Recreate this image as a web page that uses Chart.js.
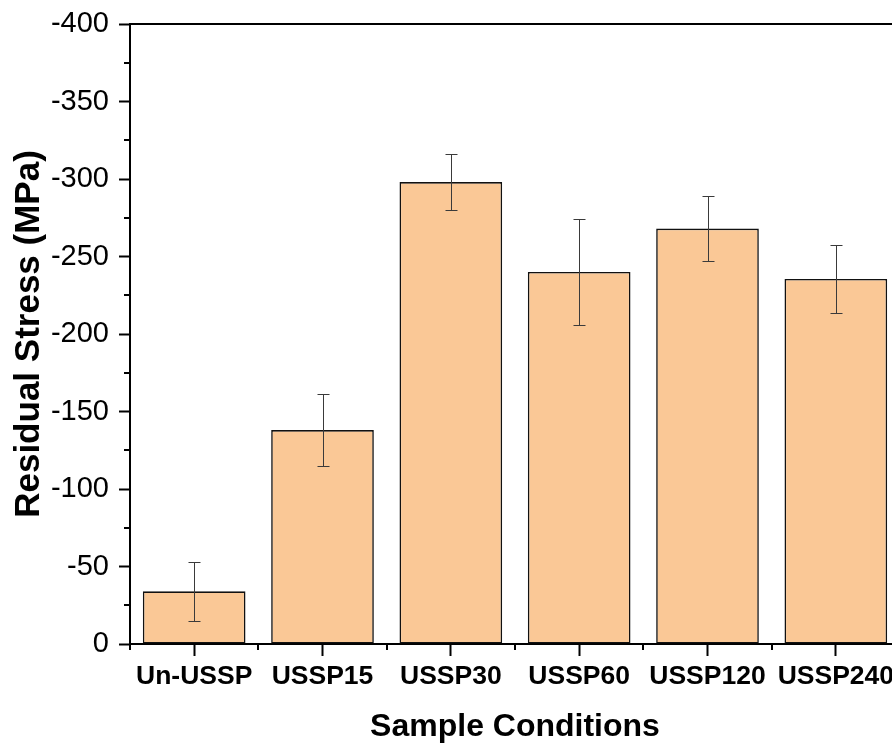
<!DOCTYPE html>
<html>
<head>
<meta charset="utf-8">
<script src="https://cdn.jsdelivr.net/npm/chart.js@4/dist/chart.umd.min.js"></script>
<style>
  html, body { margin: 0; padding: 0; background: #fff; overflow: hidden; }
  #wrap { width: 910px; height: 744px; }
</style>
</head>
<body>
<div id="wrap"><canvas id="c" width="910" height="744"></canvas></div>
<script>
const categories = ['Un-USSP', 'USSP15', 'USSP30', 'USSP60', 'USSP120', 'USSP240'];
const stressValues = [-34, -138, -298, -240, -268, -235.5];
const stressErrors = [19, 23, 18, 34, 21, 22];
const yTickValues = [0, -50, -100, -150, -200, -250, -300, -350, -400];
const yMinorTickValues = [-25, -75, -125, -175, -225, -275, -325, -375];

const FONT = "'Liberation Sans', Arial, Helvetica, sans-serif";

const errorBarPlugin = {
  id: 'errorBars',
  afterDatasetsDraw(chart) {
    const ctx = chart.ctx;
    const xs = chart.scales.x, ys = chart.scales.y;
    ctx.save();
    ctx.strokeStyle = '#3a3a3a';
    ctx.lineWidth = 1;
    stressValues.forEach((v, i) => {
      const x = Math.round(xs.getPixelForValue(i)) + 0.5;
      const yHi = Math.round(ys.getPixelForValue(v - stressErrors[i])) + 0.5;
      const yLo = Math.round(ys.getPixelForValue(v + stressErrors[i])) + 0.5;
      ctx.beginPath();
      ctx.moveTo(x, yHi); ctx.lineTo(x, yLo);
      ctx.moveTo(x - 6, yHi); ctx.lineTo(x + 6, yHi);
      ctx.moveTo(x - 6, yLo); ctx.lineTo(x + 6, yLo);
      ctx.stroke();
    });
    ctx.restore();
  }
};

const framePlugin = {
  id: 'frameAndMinor',
  afterDraw(chart) {
    const ctx = chart.ctx;
    const a = chart.chartArea;
    const xs = chart.scales.x, ys = chart.scales.y;
    ctx.save();
    ctx.strokeStyle = '#000';
    ctx.lineWidth = 2;
    ctx.beginPath();
    ctx.moveTo(a.left - 1, a.top);
    ctx.lineTo(a.right, a.top);
    ctx.lineTo(a.right, a.bottom);
    ctx.stroke();
    ctx.beginPath();
    yMinorTickValues.forEach(v => {
      const y = Math.round(ys.getPixelForValue(v));
      ctx.moveTo(a.left - 6, y); ctx.lineTo(a.left, y);
    });
    for (let i = 0; i <= categories.length; i++) {
      const x = Math.round(xs.getPixelForValue(i - 0.5));
      ctx.moveTo(x, a.bottom); ctx.lineTo(x, a.bottom + 6);
    }
    ctx.stroke();
    ctx.restore();
  }
};

new Chart(document.getElementById('c'), {
  type: 'bar',
  data: {
    labels: categories,
    datasets: [{
      data: stressValues,
      backgroundColor: '#FAC896',
      borderColor: '#111',
      borderWidth: 1.6,
      borderSkipped: false,
      barPercentage: 0.8,
      categoryPercentage: 1.0
    }]
  },
  options: {
    responsive: false,
    animation: false,
    devicePixelRatio: 1,
    layout: { padding: { top: 24, right: 10, left: 0, bottom: 0 } },
    plugins: { legend: { display: false }, tooltip: { enabled: false } },
    scales: {
      x: {
        offset: true,
        afterFit(scale) { scale.height = 100; },
        grid: { offset: false, drawOnChartArea: false, drawTicks: true, tickLength: 12, tickWidth: 2, tickColor: '#000' },
        border: { display: true, color: '#000', width: 2 },
        ticks: { color: '#000', padding: 5, font: { family: FONT, size: 26.5, weight: 'bold' }, maxRotation: 0, autoSkip: false },
        title: { display: true, text: 'Sample Conditions', color: '#000', padding: { top: 0, bottom: 1 }, font: { family: FONT, size: 32, weight: 'bold', lineHeight: 1 } }
      },
      y: {
        reverse: true,
        min: -400,
        max: 0,
        afterFit(scale) { scale.width = 130; scale.paddingTop = 0; scale.paddingBottom = 0; },
        afterBuildTicks(scale) { scale.ticks = yTickValues.map(v => ({ value: v })); },
        grid: { drawOnChartArea: false, drawTicks: true, tickLength: 11, tickWidth: 2, tickColor: '#000' },
        border: { display: true, color: '#000', width: 2 },
        ticks: { color: '#000', padding: 10, font: { family: FONT, size: 29, lineHeight: 1 } },
        title: { display: true, text: 'Residual Stress (MPa)', color: '#000', padding: { top: 8, bottom: 0 }, font: { family: FONT, size: 35, weight: 'bold' } }
      }
    }
  },
  plugins: [errorBarPlugin, framePlugin]
});
</script>
</body>
</html>
